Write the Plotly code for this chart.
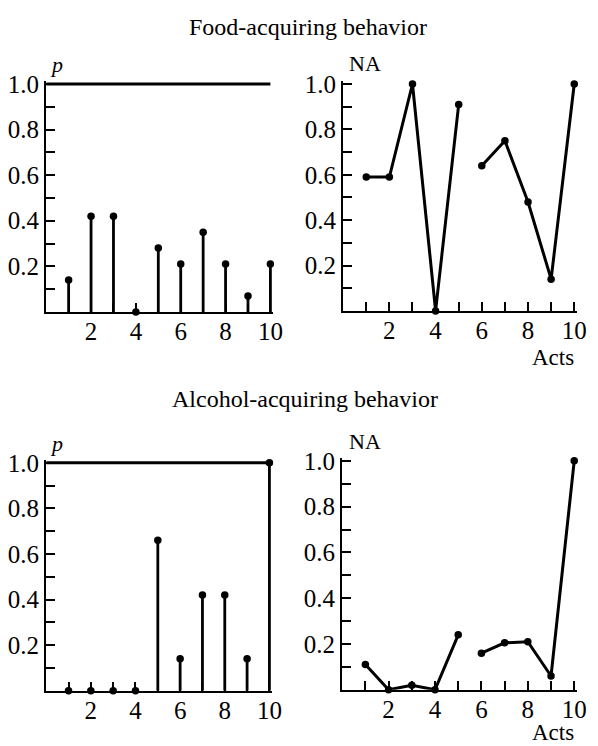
import plotly.graph_objects as go

# ---- data ----
ACTS = [1, 2, 3, 4, 5, 6, 7, 8, 9, 10]
FOOD_P = [0.14, 0.42, 0.42, 0.0, 0.28, 0.21, 0.35, 0.21, 0.07, 0.21]
FOOD_NA = [0.59, 0.59, 1.0, 0.0, 0.91, 0.64, 0.75, 0.48, 0.14, 1.0]
ALC_P = [0.0, 0.0, 0.0, 0.0, 0.66, 0.14, 0.42, 0.42, 0.14, 1.0]
ALC_NA = [0.11, 0.0, 0.02, 0.0, 0.24, 0.16, 0.205, 0.21, 0.06, 1.0]
SEGMENTS = [(1, 5), (6, 10)]  # NA curves are broken between act 5 and act 6
P_LINE = 1.0
Y_MAX = 1.0
X_MAX = 10
Y_TICKS = [0.1, 0.2, 0.3, 0.4, 0.5, 0.6, 0.7, 0.8, 0.9, 1.0]
Y_LABELS = ["", "0.2", "", "0.4", "", "0.6", "", "0.8", "", "1.0"]
X_LABELS = ["", "2", "", "4", "", "6", "", "8", "", "10"]
TITLES = ["Food-acquiring behavior", "Alcohol-acquiring behavior"]

W, H = 598, 746
FONT = "Liberation Serif, Times New Roman, serif"
PAD = 3  # px of headroom so thick lines at the range edge are not clipped

fig = go.Figure()

# pixel frame of each panel: (left x=0, right x=10, top y=1.0, bottom y=0)
panels = [
    ("", (47, 275, 75, 306), "stem", FOOD_P),
    ("2", (349, 584, 75, 305), "line", FOOD_NA),
    ("3", (47, 274, 459, 690), "stem", ALC_P),
    ("4", (348, 584, 457, 689), "line", ALC_NA),
]

for suf, (L, R, T, B), kind, vals in panels:
    xa, ya = "x" + suf, "y" + suf
    x_hi = X_MAX * (1 + PAD / (R - L))
    y_hi = Y_MAX * (1 + PAD / (B - T))
    xd = [L / W, (R + PAD) / W]
    yd = [1 - B / H, 1 - (T - PAD) / H]
    if kind == "stem":
        fig.add_trace(go.Scatter(x=[0, ACTS[-1]], y=[P_LINE, P_LINE], mode="lines",
                                 xaxis=xa, yaxis=ya, line=dict(color="black", width=3),
                                 showlegend=False, hoverinfo="skip"))
        sx, sy = [], []
        for a, v in zip(ACTS, vals):
            sx += [a, a, None]
            sy += [0, v, None]
        fig.add_trace(go.Scatter(x=sx, y=sy, mode="lines", xaxis=xa, yaxis=ya,
                                 line=dict(color="black", width=2.8),
                                 showlegend=False, hoverinfo="skip"))
        fig.add_trace(go.Scatter(x=ACTS, y=vals, mode="markers", xaxis=xa, yaxis=ya,
                                 marker=dict(color="black", size=7.5),
                                 cliponaxis=False, showlegend=False))
    else:
        for s0, s1 in SEGMENTS:
            xs = [a for a in ACTS if s0 <= a <= s1]
            ys = [v for a, v in zip(ACTS, vals) if s0 <= a <= s1]
            fig.add_trace(go.Scatter(x=xs, y=ys, mode="lines+markers", xaxis=xa, yaxis=ya,
                                     line=dict(color="black", width=3),
                                     marker=dict(color="black", size=7.5),
                                     cliponaxis=False, showlegend=False))
    axis_common = dict(showgrid=False, zeroline=False, showline=True,
                       linecolor="black", linewidth=2.2, ticks="inside",
                       tickcolor="black", tickwidth=1.8, ticklen=9,
                       fixedrange=True,
                       tickfont=dict(family=FONT, size=25, color="black"))
    fig.layout["xaxis" + suf] = dict(domain=xd, range=[0, x_hi], anchor=ya,
                                     tickvals=ACTS, ticktext=X_LABELS,
                                     ticklabelstandoff=-4, **axis_common)
    fig.layout["yaxis" + suf] = dict(domain=yd, range=[0, y_hi], anchor=xa,
                                     tickvals=Y_TICKS, ticktext=Y_LABELS,
                                     **axis_common)

ann_font = dict(family=FONT, size=22, color="black")
acts_font = dict(family=FONT, size=23, color="black")
title_font = dict(family=FONT, size=24, color="black")
annotations = [
    dict(text=TITLES[0], x=313 / W, y=1 - 17 / H, font=title_font),
    dict(text=TITLES[1], x=310 / W, y=1 - 394 / H, font=title_font),
    dict(text="<i>p</i>", x=57 / W, y=1 - 55 / H, font=ann_font),
    dict(text="<i>p</i>", x=57 / W, y=1 - 439 / H, font=ann_font),
    dict(text="NA", x=371 / W, y=1 - 54 / H, font=ann_font),
    dict(text="NA", x=371 / W, y=1 - 437 / H, font=ann_font),
    dict(text="Acts", x=562 / W, y=1 - 352 / H, font=acts_font),
    dict(text="Acts", x=562 / W, y=1 - 732 / H, font=acts_font),
]
for a in annotations:
    a.update(xref="paper", yref="paper", showarrow=False,
             xanchor="center", yanchor="middle")

fig.update_layout(width=W, height=H, margin=dict(l=0, r=0, t=0, b=0),
                  paper_bgcolor="white", plot_bgcolor="white",
                  annotations=annotations, showlegend=False)

fig.write_html("out.html")
